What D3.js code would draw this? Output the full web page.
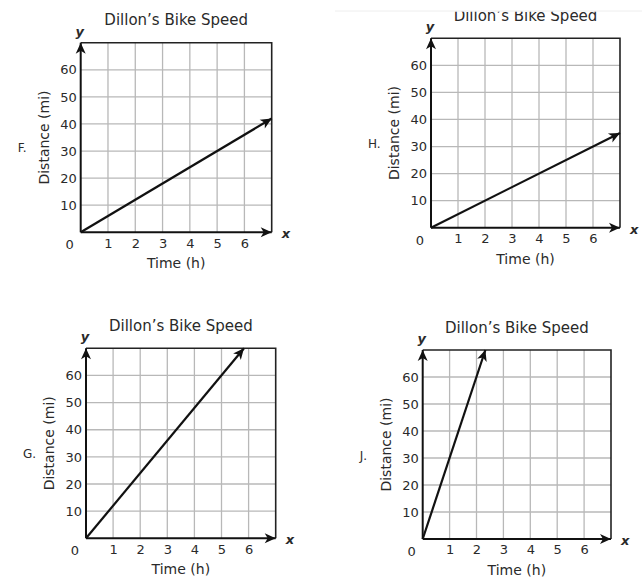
<!DOCTYPE html>
<html>
<head>
<meta charset="utf-8">
<script src="https://cdn.jsdelivr.net/npm/d3@7"></script>
<style>
  body { margin: 0; background: #fff; }
  svg text { font-family: "DejaVu Sans", Verdana, sans-serif; fill: #2a2a2a; }
</style>
</head>
<body>
<svg id="chart" width="642" height="584"></svg>
<script>
// answer choices, in reading order (top-left, top-right, bottom-left, bottom-right)
const choiceLabels = ["F.", "H.", "G.", "J."];
// end point of each drawn line (time in h, distance in mi), line starts at origin
const lineEndTime = [7, 7, 5.83, 2.33];
const lineEndDist = [42, 35, 70, 70];

const xTicks = [1, 2, 3, 4, 5, 6];
const yTicks = [10, 20, 30, 40, 50, 60];
const xMax = 7;
const yMax = 70;

const chartTitle = "Dillon\u2019s Bike Speed";
const xTitle = "Time (h)";
const yTitle = "Distance (mi)";

/* where each plot area sits on the page */
const panelPos = [
  { left: 80.7, top: 42.7, w: 191, h: 189.6 },
  { left: 431, top: 38.3, w: 189, h: 189.4 },
  { left: 86, top: 348.3, w: 189.7, h: 190 },
  { left: 422.7, top: 350, w: 188.3, h: 189 }
];

let svg = d3.select("#chart");

/* notched arrow head used on axes and on the lines */
svg.append("defs").append("marker")
  .attr("id", "arrow")
  .attr("markerUnits", "userSpaceOnUse")
  .attr("viewBox", "-12 -6 13 12")
  .attr("refX", 0).attr("refY", 0)
  .attr("markerWidth", 13).attr("markerHeight", 12)
  .attr("orient", "auto")
  .append("path")
  .attr("d", "M0,0 L-11,-5 L-8,0 L-11,5 Z")
  .attr("fill", "#111");

function drawPanel(i) {
  let p = panelPos[i];
  let g = svg.append("g").attr("transform", "translate(" + p.left + "," + p.top + ")");

  let x = d3.scaleLinear().domain([0, xMax]).range([0, p.w]);
  let y = d3.scaleLinear().domain([0, yMax]).range([p.h, 0]);

  /* grid */
  g.selectAll("line.vgrid").data(xTicks).enter().append("line")
    .attr("x1", d => x(d)).attr("x2", d => x(d))
    .attr("y1", 0).attr("y2", p.h)
    .attr("stroke", "#b8b8b8").attr("stroke-width", 1.3);
  g.selectAll("line.hgrid").data(yTicks).enter().append("line")
    .attr("x1", 0).attr("x2", p.w)
    .attr("y1", d => y(d)).attr("y2", d => y(d))
    .attr("stroke", "#b8b8b8").attr("stroke-width", 1.3);

  /* top and right border */
  g.append("path")
    .attr("d", "M" + x(0) + "," + y(yMax) + "H" + x(xMax) + "V" + y(0))
    .attr("fill", "none").attr("stroke", "#222").attr("stroke-width", 1.6);

  /* tick labels through d3 axes */
  let xAxis = g.append("g")
    .attr("transform", "translate(0," + p.h + ")")
    .call(d3.axisBottom(x).tickValues(xTicks).tickFormat(d3.format("d")).tickSize(0).tickPadding(6));
  let yAxis = g.append("g")
    .call(d3.axisLeft(y).tickValues(yTicks).tickFormat(d3.format("d")).tickSize(0).tickPadding(4));
  [xAxis, yAxis].forEach(a => {
    a.attr("font-size", 13).attr("font-family", "\"DejaVu Sans\", Verdana, sans-serif");
    a.select(".domain").remove();
    a.selectAll("text").attr("fill", "#2a2a2a");
  });

  g.append("text")
    .attr("x", x(0) - 11).attr("y", y(0) + 17)
    .attr("text-anchor", "middle").style("font-size", "13px")
    .text("0");

  /* axes with arrows */
  g.append("line")
    .attr("x1", x(0)).attr("y1", y(0)).attr("x2", x(xMax)).attr("y2", y(0))
    .attr("stroke", "#111").attr("stroke-width", 2)
    .attr("marker-end", "url(#arrow)");
  g.append("line")
    .attr("x1", x(0)).attr("y1", y(0)).attr("x2", x(0)).attr("y2", y(yMax))
    .attr("stroke", "#111").attr("stroke-width", 2)
    .attr("marker-end", "url(#arrow)");

  /* the distance line */
  g.append("line")
    .attr("x1", x(0)).attr("y1", y(0))
    .attr("x2", x(lineEndTime[i])).attr("y2", y(lineEndDist[i]))
    .attr("stroke", "#111").attr("stroke-width", 2.2)
    .attr("marker-end", "url(#arrow)");

  /* axis letters */
  g.append("text")
    .attr("x", x(xMax) + 10).attr("y", y(0) + 6)
    .style("font-size", "13px").style("font-weight", "bold").style("font-style", "italic")
    .text("x");
  g.append("text")
    .attr("x", x(0) - 1).attr("y", y(yMax) - 7)
    .attr("text-anchor", "middle")
    .style("font-size", "13px").style("font-weight", "bold").style("font-style", "italic")
    .text("y");

  /* titles */
  g.append("text")
    .attr("x", p.w / 2).attr("y", -17.5)
    .attr("text-anchor", "middle").style("font-size", "15px")
    .text(chartTitle);
  g.append("text")
    .attr("x", p.w / 2).attr("y", p.h + 36)
    .attr("text-anchor", "middle").style("font-size", "14px")
    .text(xTitle);
  g.append("text")
    .attr("transform", "translate(" + (-32) + "," + (p.h / 2) + ") rotate(-90)")
    .attr("text-anchor", "middle").style("font-size", "14px")
    .text(yTitle);

  /* answer letter */
  g.append("text")
    .attr("x", -63).attr("y", p.h / 2 + 15)
    .style("font-size", "12px")
    .text(choiceLabels[i]);
}

d3.range(panelPos.length).forEach(drawPanel);

/* the top-right picture is cropped along its upper edge in the source */
svg.append("rect")
  .attr("x", 330).attr("y", 0).attr("width", 312).attr("height", 11.5)
  .attr("fill", "#fff");
svg.append("line")
  .attr("x1", 335).attr("x2", 642).attr("y1", 11).attr("y2", 11)
  .attr("stroke", "#eee").attr("stroke-width", 1);
</script>
</body>
</html>
